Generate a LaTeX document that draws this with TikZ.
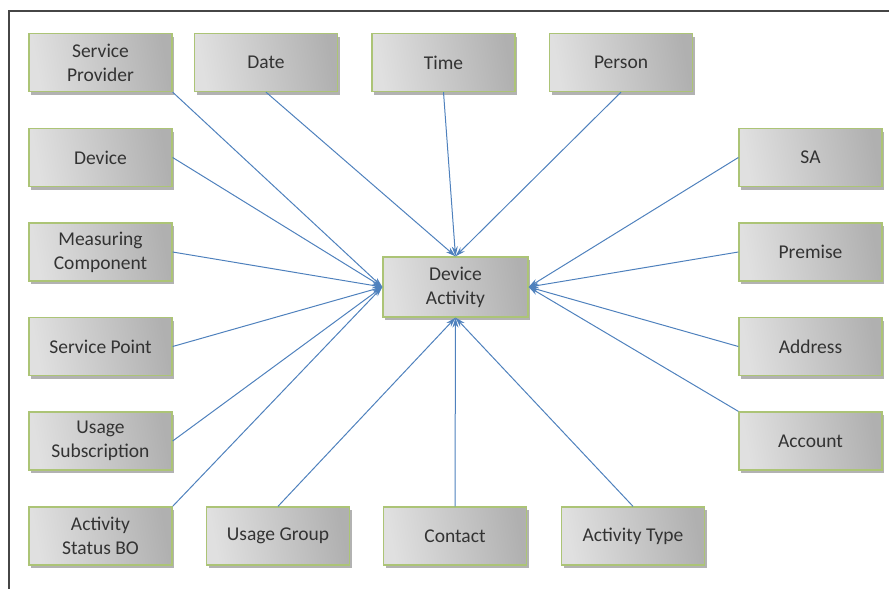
\documentclass[tikz,border=0pt]{standalone}
\usepackage{fontspec}
\setmainfont{Carlito}
\usetikzlibrary{arrows.meta}
\usetikzlibrary{shadows}
\definecolor{boxline}{RGB}{172,196,118}
\definecolor{linkblue}{RGB}{79,129,189}
\definecolor{framegray}{RGB}{70,70,70}
\tikzset{
	>={Stealth[length=10pt,width=6pt]},
	entity/.style={
		rectangle,
		draw=boxline, line width=1.3pt,
		left color=black!12,
		right color=black!31,
		shading angle=100,
		minimum width=143pt,
		minimum height=58pt,
		inner sep=0pt,
		align=center,
		text=black!80,
		font=\fontsize{19.5}{24}\selectfont,
		drop shadow={shadow xshift=2pt, shadow yshift=-3pt, opacity=0.3, fill=black}},
	hub/.style={
		entity,
		minimum width=145pt,
		minimum height=60pt},
	link/.style={draw=linkblue, line width=1pt, ->},
}

\begin{document}
\begin{tikzpicture}[x=1pt,y=-1pt]
	\useasboundingbox (0,0) rectangle (889,589);
	% frame
	\draw[framegray, line width=1.3pt] (9,589) -- (9,11) -- (889,11);

	\node[hub] (act) at (455.5,287) {Device\\Activity};

	% top row
	\node[entity] (prov) at (100.5,62.5) {Service\\Provider};
	\node[entity] (date) at (266,62.5) {Date};
	\node[entity] (time) at (443.5,62.5) {Time};
	\node[entity] (pers) at (621,62.5) {Person};

	% left column
	\node[entity] (dev)  at (100.5,157.5) {Device};
	\node[entity] (meas) at (100.5,252) {Measuring\\Component};
	\node[entity] (spt)  at (100.5,346.5) {Service Point};
	\node[entity] (usub) at (100.5,441) {Usage\\Subscription};

	% bottom row
	\node[entity] (stat) at (100.5,536) {Activity\\Status BO};
	\node[entity] (ugrp) at (278,536) {Usage Group};
	\node[entity] (cont) at (455,536) {Contact};
	\node[entity] (atyp) at (633,536) {Activity Type};

	% right column
	\node[entity] (sa)   at (810.5,157.5) {SA};
	\node[entity] (prem) at (810.5,252) {Premise};
	\node[entity] (addr) at (810.5,346.5) {Address};
	\node[entity] (acct) at (810.5,441) {Account};

	% links
	\draw[link] (prov.south east) -- (act.west);
	\draw[link] (dev.east) -- (act.west);
	\draw[link] (meas.east) -- (act.west);
	\draw[link] (spt.east) -- (act.west);
	\draw[link] (usub.east) -- (act.west);
	\draw[link] (stat.north east) -- (act.west);

	\draw[link] (date.south) -- (act.north);
	\draw[link] (time.south) -- (act.north);
	\draw[link] (pers.south) -- (act.north);

	\draw[link] (sa.west) -- (act.east);
	\draw[link] (prem.west) -- (act.east);
	\draw[link] (addr.west) -- (act.east);
	\draw[link] (acct.north west) -- (act.east);

	\draw[link] (ugrp.north) -- (act.south);
	\draw[link] (cont.north) -- (act.south);
	\draw[link] (atyp.north) -- (act.south);
\end{tikzpicture}
\end{document}
